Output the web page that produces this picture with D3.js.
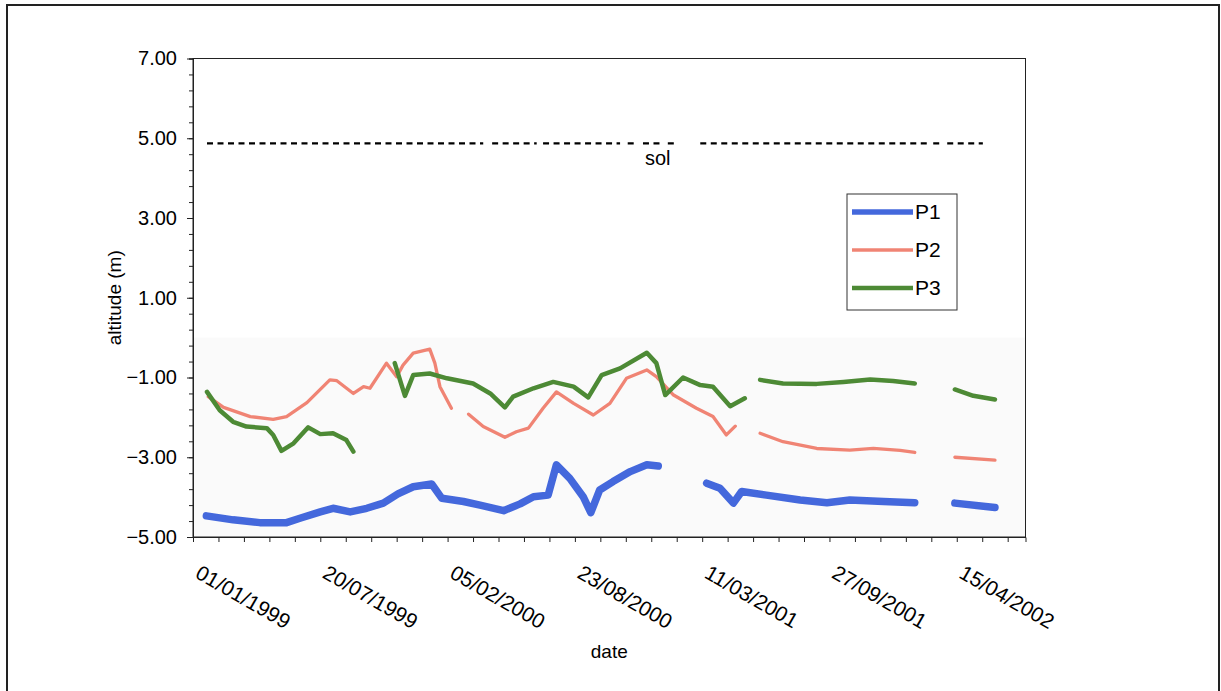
<!DOCTYPE html>
<html>
<head>
<meta charset="utf-8">
<script src="https://cdnjs.cloudflare.com/ajax/libs/d3/7.8.5/d3.min.js"></script>
<style>
    body { margin: 0; background: #fff; }
    #chart { width: 1221px; height: 691px; }
    text { font-family: "Liberation Sans", Arial, sans-serif; fill: #000; }
</style>
</head>
<body>
<div id="chart"></div>
<script>
// days counted from 01/01/1999, null value = break in the line
const p1Days   = [21, 63, 105, 147, 168, 200, 220, 247, 273, 299, 322, 346, 375, 391, 425, 451, 488, 514, 535, 558, 571, 592, 613, 625, 639, 660, 687, 713, 731, 770, 807, 828, 849, 862, 901, 954, 996, 1032, 1085, 1134, 1165, 1197, 1260];
const p1Values = [-4.47, -4.57, -4.64, -4.64, -4.53, -4.37, -4.28, -4.37, -4.28, -4.15, -3.92, -3.74, -3.67, -4.03, -4.11, -4.2, -4.34, -4.17, -3.99, -3.95, -3.19, -3.53, -3.99, -4.39, -3.82, -3.61, -3.36, -3.19, -3.22, null, -3.65, -3.78, -4.15, -3.86, -3.95, -4.07, -4.14, -4.07, -4.11, -4.14, null, -4.15, -4.26];

const p2Days   = [24, 48, 90, 126, 147, 179, 215, 226, 252, 268, 278, 304, 320, 330, 346, 372, 380, 388, 406, 420, 433, 456, 490, 508, 527, 550, 571, 598, 629, 655, 681, 713, 728, 755, 791, 817, 838, 852, 870, 891, 927, 980, 1032, 1069, 1111, 1134, 1165, 1197, 1260];
const p2Values = [-1.48, -1.75, -1.98, -2.05, -1.98, -1.63, -1.06, -1.08, -1.4, -1.23, -1.27, -0.64, -0.98, -0.69, -0.39, -0.29, -0.64, -1.23, -1.77, null, -1.92, -2.23, -2.5, -2.36, -2.27, -1.77, -1.36, -1.65, -1.94, -1.65, -1.02, -0.81, -0.98, -1.44, -1.77, -1.98, -2.44, -2.22, null, -2.4, -2.61, -2.78, -2.82, -2.78, -2.83, -2.88, null, -3.0, -3.07];

const p3Days   = [22, 42, 63, 84, 116, 126, 139, 158, 181, 200, 220, 241, 252, 285, 317, 333, 346, 372, 399, 440, 467, 490, 503, 535, 566, 598, 621, 642, 671, 713, 728, 742, 770, 797, 817, 844, 867, 880, 891, 927, 980, 1022, 1064, 1100, 1134, 1165, 1197, 1226, 1260];
const p3Values = [-1.36, -1.82, -2.11, -2.23, -2.27, -2.44, -2.84, -2.65, -2.25, -2.42, -2.4, -2.57, -2.86, null, -0.64, -1.46, -0.94, -0.9, -1.02, -1.15, -1.4, -1.75, -1.48, -1.27, -1.11, -1.23, -1.5, -0.94, -0.77, -0.38, -0.64, -1.44, -1.0, -1.19, -1.23, -1.72, -1.52, null, -1.06, -1.15, -1.16, -1.11, -1.05, -1.09, -1.15, null, -1.3, -1.46, -1.55];

const solDays   = [22, 456, 463, 470, 540, 545, 550, 671, 677, 683, 694, 700, 707, 737, 741, 746, 757, 777, 797, 1153, 1158, 1163, 1177, 1181, 1185, 1241];
const solValues = [4.87, 4.87, null, 4.87, 4.87, null, 4.87, 4.87, null, 4.87, 4.87, null, 4.87, 4.87, null, 4.87, 4.87, null, 4.87, 4.87, null, 4.87, 4.87, null, 4.87, 4.87];

const seriesNames = ["P1", "P2", "P3"];
const xTickLabels = ["01/01/1999", "20/07/1999", "05/02/2000", "23/08/2000", "11/03/2001", "27/09/2001", "15/04/2002"];
const yTickValues = [-5, -3, -1, 1, 3, 5, 7];

function createChart(containerId) {
    const container = d3.select(`#${containerId}`);
    const width = 1221;
    const height = 691;
    const margin = { top: 58.5, right: 195.5, bottom: 154, left: 193 };
    const innerWidth = width - margin.left - margin.right;
    const innerHeight = height - margin.top - margin.bottom;

    const root = container.append("svg")
        .attr("width", width)
        .attr("height", height);

    // outer frame of the scanned figure
    root.append("rect")
        .attr("x", 7).attr("y", 5)
        .attr("width", 1212).attr("height", 720)
        .attr("fill", "none")
        .attr("stroke", "#222")
        .attr("stroke-width", 2);

    const svg = root.append("g")
        .attr("transform", `translate(${margin.left}, ${margin.top})`);

    const x = d3.scaleLinear()
        .domain([0, 1308])
        .range([0, innerWidth]);

    const y = d3.scaleLinear()
        .domain([-5, 7])
        .range([innerHeight, 0]);

    // light shading below zero
    svg.append("rect")
        .attr("x", 0).attr("y", y(0))
        .attr("width", innerWidth).attr("height", y(-5) - y(0))
        .attr("fill", "#fafafa");

    // ground level (sol)
    svg.append("path")
        .datum(solDays.map((d, i) => ({ day: d, value: solValues[i] })))
        .attr("fill", "none")
        .attr("stroke", "#000")
        .attr("stroke-width", 2.2)
        .attr("stroke-dasharray", "6 4.5")
        .attr("d", d3.line()
            .defined(d => d.value !== null)
            .x(d => x(d.day))
            .y(d => y(d.value))
        );

    svg.append("text")
        .attr("x", x(710))
        .attr("y", y(4.87) + 22)
        .style("font-size", "20px")
        .text("sol");

    const series = [
        { name: seriesNames[0], days: p1Days, values: p1Values, color: "#4468dc", width: 7.5 },
        { name: seriesNames[1], days: p2Days, values: p2Values, color: "#f08474", width: 3.3 },
        { name: seriesNames[2], days: p3Days, values: p3Values, color: "#4d8a35", width: 4.5 }
    ];

    series.forEach(s => {
        svg.append("path")
            .datum(s.days.map((d, i) => ({ day: d, value: s.values[i] })))
            .attr("fill", "none")
            .attr("stroke", s.color)
            .attr("stroke-width", s.width)
            .attr("stroke-linejoin", "round")
            .attr("stroke-linecap", "round")
            .attr("d", d3.line()
                .defined(d => d.value !== null)
                .x(d => x(d.day))
                .y(d => y(d.value))
            );
    });

    // plot border
    svg.append("rect")
        .attr("width", innerWidth).attr("height", innerHeight)
        .attr("fill", "none")
        .attr("stroke", "#222")
        .attr("stroke-width", 1);

    // X-axis: minor ticks every 40 days, labels every 200 days
    const xAxis = svg.append("g")
        .attr("transform", `translate(0,${innerHeight})`)
        .call(d3.axisBottom(x)
            .tickValues(d3.range(0, 1308, 40))
            .tickSize(5)
            .tickFormat(""));
    xAxis.select(".domain").attr("stroke", "#222");
    xAxis.selectAll(".tick line").attr("stroke", "#222");

    svg.append("g")
        .selectAll("text")
        .data(xTickLabels)
        .enter().append("text")
        .attr("transform", (d, i) => `translate(${x(i * 200) + 1},${innerHeight + 40}) rotate(30)`)
        .style("font-size", "21px")
        .text(d => d);

    // Y-axis
    const yMinor = svg.append("g")
        .call(d3.axisLeft(y)
            .tickValues(d3.range(-5, 7.01, 0.4))
            .tickSize(4)
            .tickFormat(""));
    yMinor.select(".domain").attr("stroke", "#222");
    yMinor.selectAll(".tick line").attr("stroke", "#222");

    const yAxis = svg.append("g")
        .call(d3.axisLeft(y)
            .tickValues(yTickValues)
            .tickSize(6)
            .tickPadding(10)
            .tickFormat(d3.format(".2f")));
    yAxis.select(".domain").remove();
    yAxis.selectAll(".tick line").attr("stroke", "#222");
    yAxis.selectAll(".tick text")
        .style("font-family", "'Liberation Sans', Arial, sans-serif")
        .style("font-size", "20px")
        .attr("fill", "#000");

    // X-axis label
    svg.append("text")
        .attr("text-anchor", "middle")
        .attr("x", innerWidth / 2)
        .attr("y", innerHeight + 121)
        .style("font-size", "19px")
        .text("date");

    // Y-axis label
    svg.append("text")
        .attr("text-anchor", "middle")
        .attr("transform", "rotate(-90)")
        .attr("x", -innerHeight / 2)
        .attr("y", -72)
        .style("font-size", "19px")
        .text("altitude (m)");

    // Legend
    const legend = root.append("g")
        .attr("transform", "translate(847,194)");

    legend.append("rect")
        .attr("width", 110).attr("height", 116)
        .attr("fill", "#fff")
        .attr("stroke", "#333")
        .attr("stroke-width", 1);

    series.forEach((s, i) => {
        const ly = 18 + i * 38;
        legend.append("line")
            .attr("x1", 5).attr("x2", 66)
            .attr("y1", ly).attr("y2", ly)
            .attr("stroke", s.color)
            .attr("stroke-width", Math.min(s.width, 5.5));
        legend.append("text")
            .attr("x", 68)
            .attr("y", ly + 7)
            .style("font-size", "21px")
            .text(s.name);
    });
}

createChart("chart");
</script>
</body>
</html>
